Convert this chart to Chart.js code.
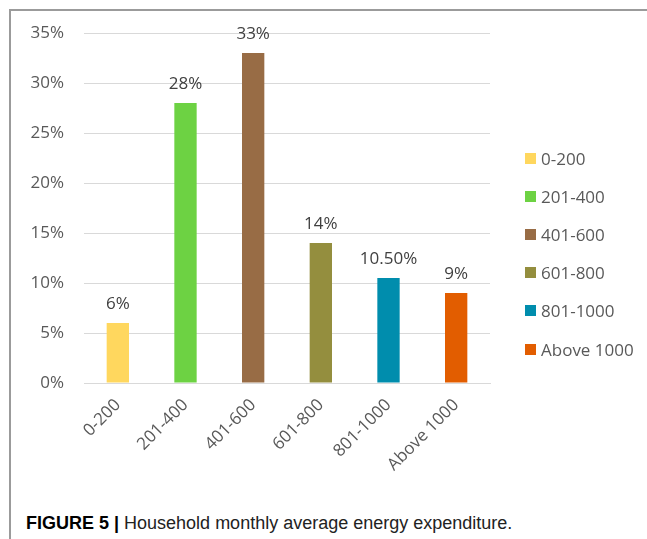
<!DOCTYPE html>
<html>
<head>
<meta charset="utf-8">
<script src="https://cdn.jsdelivr.net/npm/chart.js@4.4.1/dist/chart.umd.min.js"></script>
<style>
  html, body { margin: 0; padding: 0; background: #fff; }
  body { width: 647px; height: 539px; position: relative; overflow: hidden; }
  .frame {
    position: absolute; left: 9px; top: 9px; right: 0; bottom: 0;
    border-left: 2px solid #9b9b9b; border-top: 2px solid #9b9b9b;
  }
  .box { position: absolute; left: 12px; top: 12px; width: 635px; height: 488px; }
  #legend {
    position: absolute; left: 525px; top: 139px; margin: 0; padding: 0; list-style: none;
    font: 17px "Open Sans", "Segoe UI", sans-serif; color: #595959;
  }
  #legend li { height: 38.2px; display: flex; align-items: center; white-space: nowrap; }
  #legend span { display: inline-block; width: 11px; height: 11px; margin-right: 5px; }
  .caption {
    position: absolute; left: 26px; top: 513px;
    font: 18px "Liberation Sans", Arial, sans-serif; color: #222; white-space: nowrap;
  }
  .caption b { color: #000; }
</style>
</head>
<body>
<div class="frame"></div>
<div class="box"><canvas id="chart" width="635" height="488"></canvas></div>
<ul id="legend"></ul>
<div class="caption"><b>FIGURE 5 |</b> Household monthly average energy expenditure.</div>

<script>
  // данные
  const categories = ["0-200", "201-400", "401-600", "601-800", "801-1000", "Above 1000"];
  const values = [6, 28, 33, 14, 10.5, 9];
  const valueLabels = ["6%", "28%", "33%", "14%", "10.50%", "9%"];
  const yTicks = [0, 5, 10, 15, 20, 25, 30, 35];
  const colors = ["#ffd75e", "#6dd243", "#986c45", "#948e3e", "#008dad", "#e25d00"];

  const FONT = '"Open Sans", "Segoe UI", sans-serif';
  const textColor = "#595959";

  // подписи над столбцами
  const barLabels = {
    id: "barLabels",
    afterDatasetsDraw(chart) {
      const { ctx } = chart;
      const meta = chart.getDatasetMeta(0);
      ctx.save();
      ctx.font = `17px ${FONT}`;
      ctx.fillStyle = "#404040";
      ctx.textAlign = "center";
      ctx.textBaseline = "alphabetic";
      meta.data.forEach((bar, i) => {
        ctx.fillText(valueLabels[i], bar.x, bar.y - 14);
      });
      ctx.restore();
    },
  };

  // легенда справа (html)
  const htmlLegend = {
    id: "htmlLegend",
    afterUpdate(chart) {
      const ul = document.getElementById("legend");
      ul.innerHTML = "";
      chart.data.labels.forEach((label, i) => {
        const li = document.createElement("li");
        const sw = document.createElement("span");
        sw.style.background = chart.data.datasets[0].backgroundColor[i];
        li.appendChild(sw);
        li.appendChild(document.createTextNode(label));
        ul.appendChild(li);
      });
    },
  };

  new Chart(document.getElementById("chart"), {
    type: "bar",
    data: {
      labels: categories,
      datasets: [
        {
          data: values,
          backgroundColor: colors,
          barPercentage: 0.33,
          categoryPercentage: 1,
        },
      ],
    },
    plugins: [barLabels, htmlLegend],
    options: {
      responsive: false,
      animation: false,
      layout: { padding: { top: 21, right: 157, bottom: 0, left: 0 } },
      plugins: {
        tooltip: { enabled: false },
        legend: { display: false },
      },
      scales: {
        x: {
          grid: { display: false },
          border: { color: "#d9d9d9", width: 1 },
          ticks: {
            color: textColor,
            font: { family: FONT, size: 17 },
            minRotation: 45,
            maxRotation: 45,
            padding: 4,
          },
          afterFit: (s) => { s.height = 117; },
        },
        y: {
          min: 0,
          max: 35,
          afterBuildTicks: (s) => { s.ticks = yTicks.map((v) => ({ value: v })); },
          // отступ подписей через невидимые засечки, чтобы не сдвигать верх области
          grid: { color: "#d9d9d9", lineWidth: 1, drawTicks: true, tickLength: 20, tickColor: "transparent" },
          border: { display: false },
          ticks: {
            color: textColor,
            font: { family: FONT, size: 17 },
            padding: 0,
            callback: (v) => v + "%",
          },
          afterFit: (s) => { s.width = 72; },
        },
      },
    },
  });
</script>
</body>
</html>
